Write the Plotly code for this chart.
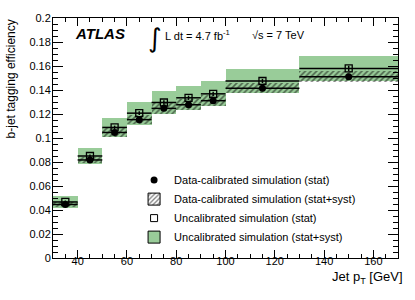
import plotly.graph_objects as go

# ---- data ----
bin_lo = [30, 40, 50, 60, 70, 80, 90, 100, 130]
bin_hi = [40, 50, 60, 70, 80, 90, 100, 130, 170]
calib = [0.0446, 0.0817, 0.1046, 0.1153, 0.1247, 0.1277, 0.1311, 0.1415, 0.1510]
calib_stat = [0.0012, 0.0012, 0.0015, 0.0016, 0.0018, 0.0018, 0.0018, 0.0018, 0.0022]
calib_tot = [0.0022, 0.0027, 0.0035, 0.0040, 0.0045, 0.0045, 0.0045, 0.0040, 0.0045]
uncal = [0.0467, 0.0850, 0.1088, 0.1207, 0.1296, 0.1335, 0.1368, 0.1475, 0.1580]
uncal_stat = [0.0012, 0.0012, 0.0015, 0.0016, 0.0018, 0.0018, 0.0018, 0.0018, 0.0022]
uncal_tot = [0.0052, 0.0064, 0.0082, 0.0095, 0.0095, 0.0098, 0.0105, 0.0096, 0.0105]

y_ticks = [0, 0.02, 0.04, 0.06, 0.08, 0.1, 0.12, 0.14, 0.16, 0.18, 0.2]
y_ticklabels = ["0", "0.02", "0.04", "0.06", "0.08", "0.1", "0.12", "0.14", "0.16", "0.18", "0.2"]

labels = ["Data-calibrated simulation (stat)",
          "Data-calibrated simulation (stat+syst)",
          "Uncalibrated simulation (stat)",
          "Uncalibrated simulation (stat+syst)"]

centers = [(a + b) / 2 for a, b in zip(bin_lo, bin_hi)]
widths = [b - a for a, b in zip(bin_lo, bin_hi)]
halfw = [w / 2 for w in widths]

FONT = "Liberation Sans, Arial, Helvetica, sans-serif"
GREEN = "#99cc99"

fig = go.Figure()

# green band: uncalibrated stat+syst
fig.add_trace(go.Bar(
    x=centers, width=widths,
    base=[u - e for u, e in zip(uncal, uncal_tot)],
    y=[2 * e for e in uncal_tot],
    marker=dict(color=GREEN, line=dict(width=0)),
    showlegend=False, hoverinfo="skip"))

# hatched band: data-calibrated stat+syst
fig.add_trace(go.Bar(
    x=centers, width=widths,
    base=[c - e for c, e in zip(calib, calib_tot)],
    y=[2 * e for e in calib_tot],
    marker=dict(color="rgba(0,0,0,0)", line=dict(width=0),
                pattern=dict(shape="/", fgcolor="black", bgcolor="rgba(0,0,0,0)",
                             size=4, solidity=0.4)),
    showlegend=False, hoverinfo="skip"))

# uncalibrated points
fig.add_trace(go.Scatter(
    x=centers, y=uncal, mode="markers",
    marker=dict(symbol="square-open", size=7, color="black", line=dict(width=1.3)),
    error_x=dict(type="data", array=halfw, color="black", thickness=1.5, width=0),
    error_y=dict(type="data", array=uncal_stat, color="black", thickness=1.5, width=0),
    showlegend=False))

# data-calibrated points
fig.add_trace(go.Scatter(
    x=centers, y=calib, mode="markers",
    marker=dict(symbol="circle", size=7, color="black"),
    error_x=dict(type="data", array=halfw, color="black", thickness=1.5, width=0),
    error_y=dict(type="data", array=calib_stat, color="black", thickness=1.5, width=0),
    showlegend=False))

# legend entries
fig.add_trace(go.Scatter(x=[None], y=[None], mode="markers", name=labels[0],
                         marker=dict(symbol="circle", size=7, color="black")))
fig.add_trace(go.Bar(x=[None], y=[None], name=labels[1],
                     marker=dict(color="white", line=dict(color="black", width=1),
                                 pattern=dict(shape="/", fgcolor="black", bgcolor="white",
                                              size=4, solidity=0.4))))
fig.add_trace(go.Scatter(x=[None], y=[None], mode="markers", name=labels[2],
                         marker=dict(symbol="square-open", size=7, color="black",
                                     line=dict(width=1))))
fig.add_trace(go.Bar(x=[None], y=[None], name=labels[3],
                     marker=dict(color=GREEN, line=dict(color="black", width=1))))

axis_common = dict(showgrid=False, zeroline=False, showline=True, linecolor="black",
                   linewidth=1, mirror="allticks", ticks="inside", tickcolor="black",
                   tickfont=dict(family=FONT, size=11, color="black"))

fig.update_layout(
    width=415, height=300,
    margin=dict(l=53, r=17, t=13, b=42),
    paper_bgcolor="white", plot_bgcolor="white",
    barmode="overlay", bargap=0,
    font=dict(family=FONT, color="black"),
    xaxis=dict(range=[30, 170], dtick=20, tick0=0, ticklen=8,
               minor=dict(dtick=5, ticklen=4, ticks="inside", tickcolor="black"),
               ticklabelstandoff=-7,
               **axis_common),
    yaxis=dict(range=[0, 0.2], tickmode="array", tickvals=y_ticks, ticktext=y_ticklabels,
               ticklen=10,
               minor=dict(dtick=0.005, ticklen=5, ticks="inside", tickcolor="black"),
               ticklabelstandoff=-1,
               **axis_common),
    legend=dict(x=0.235, y=0.385, xanchor="left", yanchor="top",
                bgcolor="rgba(0,0,0,0)", borderwidth=0,
                font=dict(family=FONT, size=11, color="black"),
                tracegroupgap=0, itemwidth=30),
    showlegend=True,
)

ann = []
ann.append(dict(text="b-jet tagging efficiency", textangle=-90, x=-0.122, y=1.004,
                xref="paper", yref="paper", xanchor="center", yanchor="top",
                showarrow=False, font=dict(size=12, family=FONT)))
ann.append(dict(text="Jet p<sub>T</sub> [GeV]", x=1.02, y=-0.037, xref="paper", yref="paper",
                xanchor="right", yanchor="top", showarrow=False,
                font=dict(size=13, family=FONT)))
ann.append(dict(text="<b><i>ATLAS</i></b>", x=0.136, y=0.935, xref="paper", yref="paper",
                xanchor="center", yanchor="middle", showarrow=False,
                font=dict(size=15, family=FONT)))
ann.append(dict(text="∫", x=0.295, y=0.915, xref="paper", yref="paper",
                xanchor="center", yanchor="middle", showarrow=False,
                font=dict(size=26, family="DejaVu Sans")))
ann.append(dict(text="L dt = 4.7 fb<sup>-1</sup>", x=0.318, y=0.93, xref="paper", yref="paper",
                xanchor="left", yanchor="middle", showarrow=False,
                font=dict(size=11, family=FONT)))
ann.append(dict(text="√s = 7 TeV", x=0.57, y=0.93, xref="paper", yref="paper",
                xanchor="left", yanchor="middle", showarrow=False,
                font=dict(size=11, family=FONT)))
fig.update_layout(annotations=ann)

fig.write_html("out.html", config={"displayModeBar": False},
               post_script="document.body.style.margin='0';")
